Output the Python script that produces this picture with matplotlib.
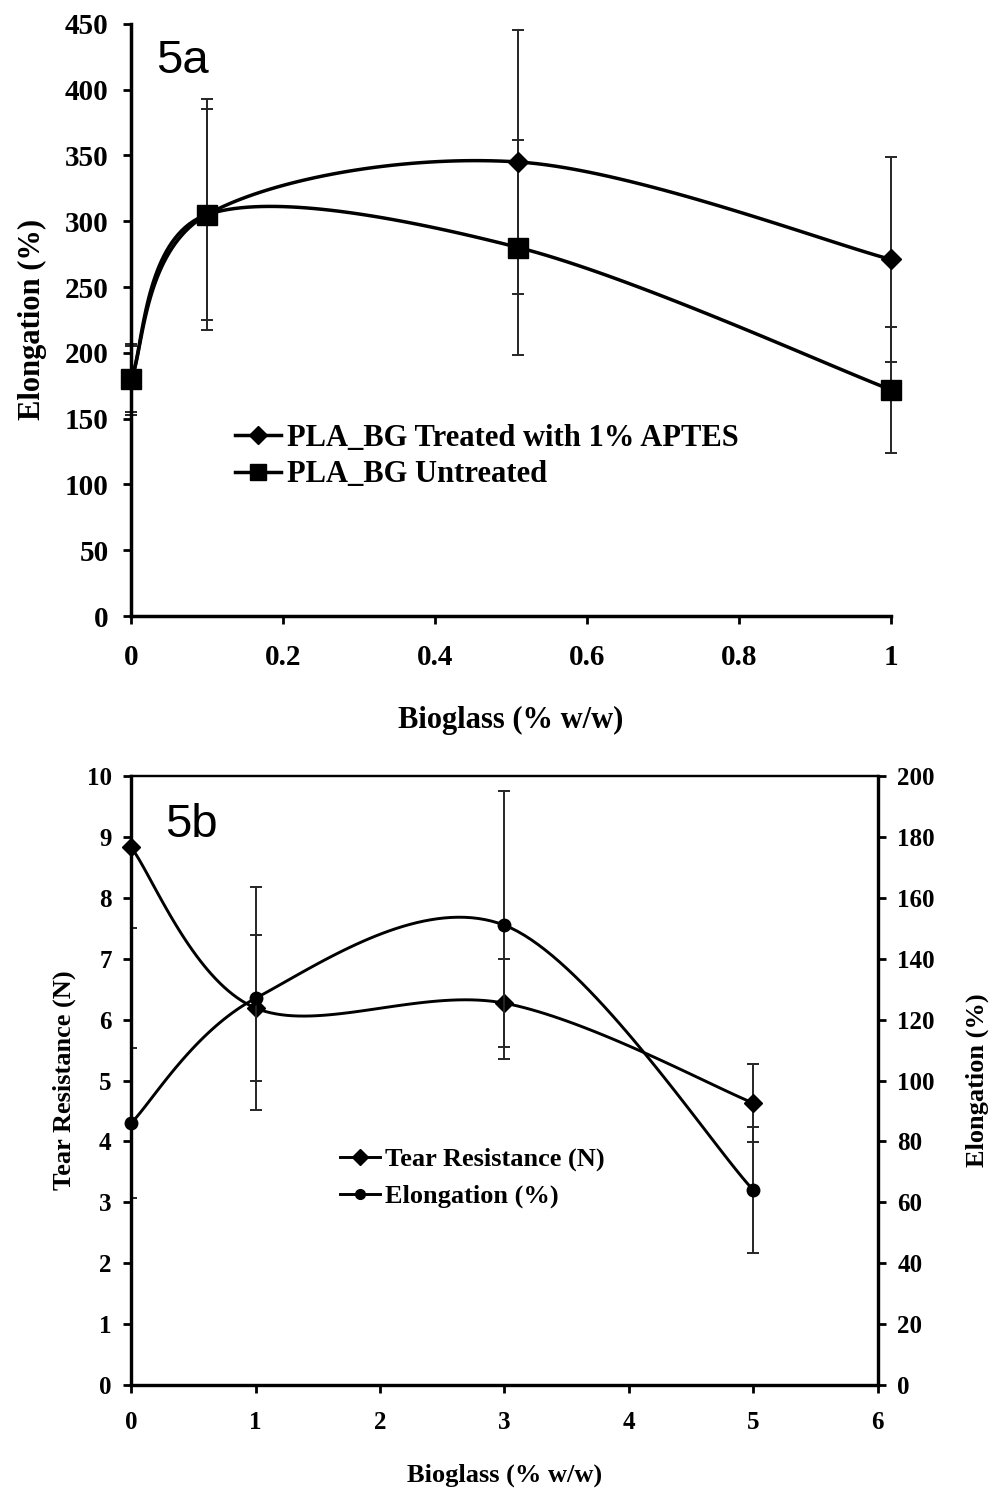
import numpy as np
import matplotlib
matplotlib.use("Agg")
import matplotlib.pyplot as plt
from matplotlib.lines import Line2D

# ---- panel 5a data ----
bg_a = [0, 0.1, 0.51, 1]
elong_treated = [180, 305, 345, 271]
err_treated = [27, 88, 100, 78]
elong_untreated = [180, 305, 280, 172]
err_untreated = [25, 80, 82, 48]

# ---- panel 5b data ----
bg_b = [0, 1, 3, 5]
tear = [8.83, 6.19, 6.27, 4.63]
err_tear = [1.33, 1.2, 0.72, 0.64]
elong_b = [86, 127, 151, 64]
err_elong_b = [24.6, 36.7, 44, 20.6]

yticks_a = list(range(0, 451, 50))
xticks_a = [0, 0.2, 0.4, 0.6, 0.8, 1]
xticklabels_a = ["0", "0.2", "0.4", "0.6", "0.8", "1"]

plt.rcParams['font.family'] = ['Liberation Serif', 'DejaVu Serif']
plt.rcParams['font.weight'] = 'bold'


def smooth(x, y, n=40):
    """Excel-like smoothed line: cubic bezier with neighbour based control points."""
    x = np.asarray(x, float)
    y = np.asarray(y, float)
    px, py = [], []
    m = len(x)
    t = np.linspace(0, 1, n)
    for i in range(m - 1):
        i0 = max(i - 1, 0)
        i3 = min(i + 2, m - 1)
        p0 = np.array([x[i], y[i]])
        p3 = np.array([x[i + 1], y[i + 1]])
        c1 = p0 + (p3 - np.array([x[i0], y[i0]])) / 6.0
        c2 = p3 - (np.array([x[i3], y[i3]]) - p0) / 6.0
        b = ((1 - t) ** 3)[:, None] * p0 + (3 * (1 - t) ** 2 * t)[:, None] * c1 \
            + (3 * (1 - t) * t ** 2)[:, None] * c2 + (t ** 3)[:, None] * p3
        px.extend(b[:, 0])
        py.extend(b[:, 1])
    return px, py


def bars(ax, x, y, err, clip=True):
    eb = ax.errorbar(x, y, yerr=err, fmt='none', ecolor='#262626',
                     elinewidth=1.4, capsize=4.5, capthick=1.4, zorder=2)
    for art in eb.get_children():
        art.set_clip_on(clip)


fig = plt.figure(figsize=(9.93, 14.88), dpi=100)

# ================= 5a =================
ax1 = fig.add_axes([0.132, 0.586, 0.765, 0.398])
for yv, err, mk, ms in [(elong_treated, err_treated, 'D', 10),
                        (elong_untreated, err_untreated, 's', 14)]:
    sx, sy = smooth(bg_a, yv)
    ax1.plot(sx, sy, color='black', lw=2.5, zorder=3, clip_on=False)
    bars(ax1, bg_a, yv, err, clip=False)
    ax1.plot(bg_a, yv, linestyle='none', marker=mk, ms=ms, color='black',
             zorder=4, clip_on=False)

ax1.set_xlim(0, 1)
ax1.set_ylim(0, 450)
ax1.set_yticks(yticks_a)
ax1.set_xticks(xticks_a)
ax1.set_xticklabels(xticklabels_a)
for s in ['top', 'right']:
    ax1.spines[s].set_visible(False)
for s in ['left', 'bottom']:
    ax1.spines[s].set_linewidth(2.5)
ax1.tick_params(axis='both', direction='out', length=6, width=2,
                labelsize=21, pad=10)
ax1.tick_params(axis='x', pad=14)
ax1.set_xlabel("Bioglass (% w/w)", fontsize=22, fontweight='bold', labelpad=25)
ax1.set_ylabel("Elongation (%)", fontsize=22, fontweight='bold', labelpad=13)
ax1.text(0.033, 0.975, "5a", transform=ax1.transAxes, fontsize=34,
         family='Liberation Sans', fontweight='normal', va='top', ha='left')

h_a = [Line2D([], [], color='black', lw=2.5, marker='D', ms=9),
       Line2D([], [], color='black', lw=2.5, marker='s', ms=12)]
ax1.legend(h_a, ["PLA_BG Treated with 1% APTES", "PLA_BG Untreated"],
           loc='upper left', bbox_to_anchor=(0.137, 0.325), frameon=False,
           fontsize=22, handlelength=1.5, handletextpad=0.2, numpoints=1,
           borderpad=0, borderaxespad=0, labelspacing=0.25)

# ================= 5b =================
ax2 = fig.add_axes([0.132, 0.0692, 0.752, 0.4093])
ax3 = ax2.twinx()

sx, sy = smooth(bg_b, tear)
ax2.plot(sx, sy, color='black', lw=2.1, zorder=3)
bars(ax2, bg_b, tear, err_tear)
ax2.plot(bg_b, tear, linestyle='none', marker='D', ms=9, color='black',
         zorder=4, clip_on=False)

sx, sy = smooth(bg_b, elong_b)
ax3.plot(sx, sy, color='black', lw=2.1, zorder=3)
bars(ax3, bg_b, elong_b, err_elong_b)
ax3.plot(bg_b, elong_b, linestyle='none', marker='o', ms=9, color='black',
         zorder=4, clip_on=False)

ax2.set_xlim(0, 6)
ax2.set_ylim(0, 10)
ax3.set_ylim(0, 200)
ax2.set_xticks(range(0, 7))
ax2.set_yticks(range(0, 11))
ax3.set_yticks(range(0, 201, 20))
for a in (ax2, ax3):
    a.spines['top'].set_linewidth(1.6)
    for s in ['left', 'right', 'bottom']:
        a.spines[s].set_linewidth(2.3)
    a.tick_params(axis='both', direction='out', length=6, width=2,
                  labelsize=18, pad=8)
ax2.tick_params(axis='x', pad=13)
ax2.set_xlabel("Bioglass (% w/w)", fontsize=19, fontweight='bold', labelpad=21)
ax2.set_ylabel("Tear Resistance (N)", fontsize=19, fontweight='bold', labelpad=8)
ax3.set_ylabel("Elongation (%)", fontsize=19, fontweight='bold', labelpad=22)
ax2.text(0.045, 0.955, "5b", transform=ax2.transAxes, fontsize=34,
         family='Liberation Sans', fontweight='normal', va='top', ha='left')

h_b = [Line2D([], [], color='black', lw=2.1, marker='D', ms=8),
       Line2D([], [], color='black', lw=2.1, marker='o', ms=7)]
ax2.legend(h_b, ["Tear Resistance (N)", "Elongation (%)"],
           loc='upper left', bbox_to_anchor=(0.28, 0.39), frameon=False,
           fontsize=19, handlelength=1.5, handletextpad=0.2, numpoints=1,
           borderpad=0, borderaxespad=0, labelspacing=0.5)

fig.savefig("out.png", dpi=100)
